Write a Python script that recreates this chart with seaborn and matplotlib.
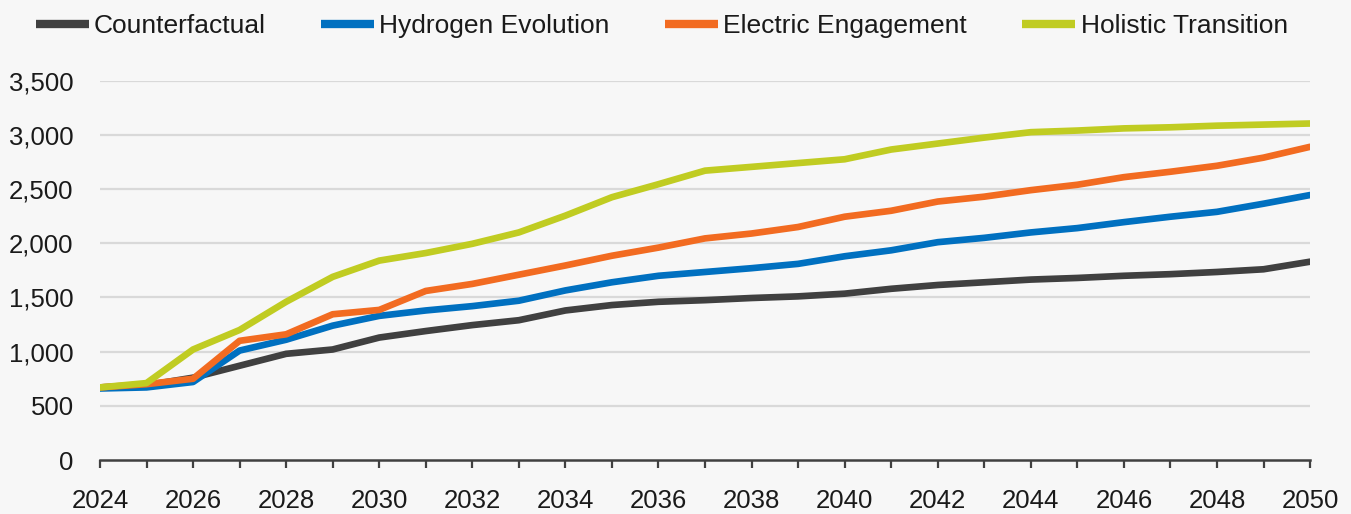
import seaborn as sns
import matplotlib.pyplot as plt
import pandas as pd
import numpy as np

years = list(range(2024, 2051))

counterfactual = [670, 690, 760, 870, 980, 1020, 1130, 1190, 1245, 1290, 1380, 1430, 1460, 1475,
                  1495, 1510, 1535, 1580, 1615, 1640, 1665, 1680, 1700, 1715, 1735, 1760, 1830]
hydrogen = [660, 670, 720, 1010, 1110, 1240, 1330, 1380, 1420, 1470, 1565, 1640, 1700, 1735,
            1770, 1810, 1880, 1935, 2010, 2050, 2100, 2140, 2195, 2245, 2290, 2365, 2445]
electric = [670, 700, 750, 1100, 1160, 1345, 1385, 1560, 1625, 1710, 1795, 1885, 1960, 2045,
            2090, 2150, 2245, 2300, 2385, 2430, 2490, 2540, 2610, 2660, 2715, 2790, 2890]
holistic = [670, 710, 1020, 1200, 1460, 1690, 1840, 1910, 1995, 2100, 2255, 2425, 2545, 2670,
            2705, 2740, 2775, 2865, 2920, 2975, 3025, 3040, 3060, 3070, 3085, 3095, 3105]

scenarios = ['Counterfactual', 'Hydrogen Evolution', 'Electric Engagement', 'Holistic Transition']
colors = ['#404040', '#0070C0', '#F26B21', '#C0CC22']

df = pd.DataFrame({'year': years, scenarios[0]: counterfactual, scenarios[1]: hydrogen,
                   scenarios[2]: electric, scenarios[3]: holistic})
long = df.melt(id_vars='year', var_name='scenario', value_name='value')

sns.set_style("white")
plt.rcParams['font.family'] = ['Liberation Sans', 'DejaVu Sans']
bg = '#f7f7f7'
txt = '#1a1a1a'

fig = plt.figure(figsize=(13.51, 5.14), dpi=100, facecolor=bg)
ax = fig.add_axes([0.074, 0.105, 0.8957, 0.738])
ax.set_facecolor(bg)

sns.lineplot(data=long, x='year', y='value', hue='scenario', hue_order=scenarios,
             palette=dict(zip(scenarios, colors)), linewidth=4.8, ax=ax, legend=False)

ax.set_xlim(2024, 2050)
ax.set_ylim(0, 3500)
ax.set_yticks(np.arange(0, 3501, 500))
ax.set_yticklabels([f'{v:,}' for v in range(0, 3501, 500)])
ax.set_xticks(range(2024, 2051, 2))
ax.set_xticks(range(2024, 2051), minor=True)
ax.set_xlabel('')
ax.set_ylabel('')

for v in range(500, 3501, 500):
    ax.axhline(v, color='#d9d9d9', linewidth=1.6, zorder=0)

for s in ['top', 'right', 'left']:
    ax.spines[s].set_visible(False)
ax.spines['bottom'].set_color('#404040')
ax.spines['bottom'].set_linewidth(1.8)

ax.tick_params(axis='y', left=False, length=0, pad=19, labelsize=18.5, labelcolor=txt)
ax.tick_params(axis='x', which='both', bottom=True, direction='out', length=6, width=1.6,
               color='#404040', pad=15, labelsize=18.5, labelcolor=txt)

handles = [plt.Line2D([], [], color=c, linewidth=6, solid_capstyle='butt') for c in colors]
fig.legend(handles, scenarios, loc='upper left', bbox_to_anchor=(0.009, 1.018), ncol=4,
           frameon=False, fontsize=19, handlelength=2.0, handletextpad=0.2,
           columnspacing=2.1, labelcolor=txt)

fig.savefig('out.png', dpi=100, facecolor=bg)
